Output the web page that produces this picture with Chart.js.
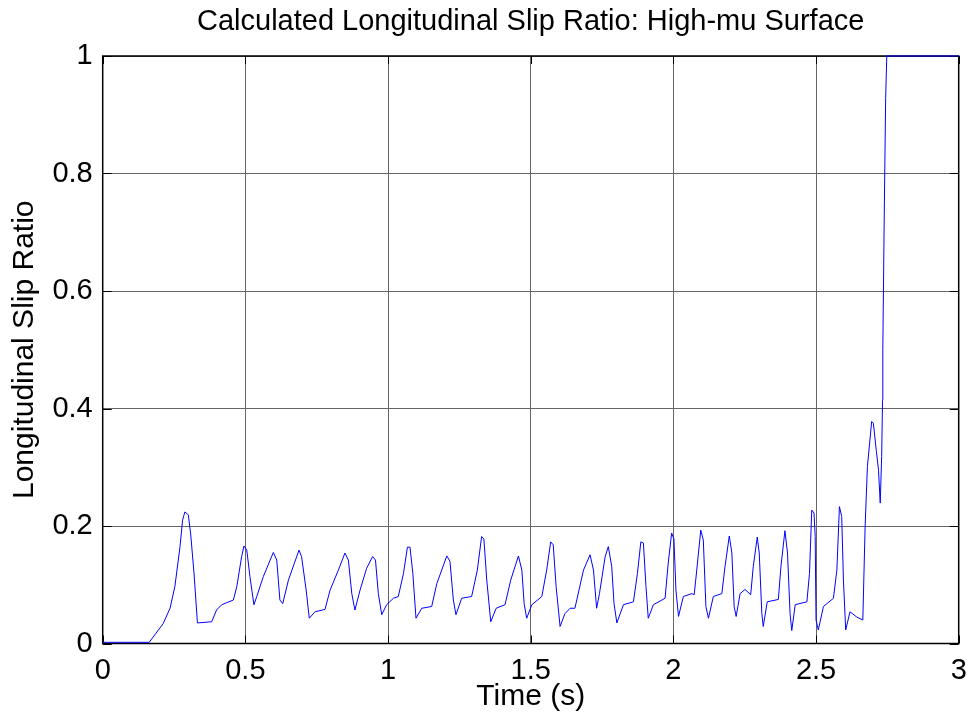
<!DOCTYPE html>
<html lang="en">
<head>
  <meta charset="UTF-8">
  <title>Longitudinal Slip Ratio</title>
  <script src="https://cdn.jsdelivr.net/npm/chart.js"></script>
  <style>
    html, body { margin: 0; padding: 0; background: #fff; }
    #wrap { width: 968px; height: 717px; }
  </style>
</head>
<body>
  <div id="wrap"><canvas id="slipChart" width="968" height="717"></canvas></div>

  <script>
    // time (s)
    const times = [
      0, 0.163, 0.212, 0.236, 0.253, 0.271, 0.280, 0.288, 0.300, 0.308,
      0.320, 0.332, 0.382, 0.399, 0.417, 0.458, 0.470, 0.487, 0.495, 0.505,
      0.516, 0.530, 0.540, 0.563, 0.598, 0.610, 0.621, 0.631, 0.651, 0.688,
      0.697, 0.713, 0.724, 0.744, 0.779, 0.797, 0.826, 0.849, 0.861, 0.873,
      0.884, 0.902, 0.925, 0.946, 0.956, 0.966, 0.978, 0.995, 1.019, 1.036,
      1.054, 1.068, 1.077, 1.087, 1.098, 1.118, 1.153, 1.171, 1.206, 1.217,
      1.229, 1.238, 1.258, 1.293, 1.313, 1.328, 1.336, 1.346, 1.360, 1.379,
      1.410, 1.430, 1.457, 1.469, 1.477, 1.486, 1.504, 1.539, 1.556, 1.570,
      1.579, 1.589, 1.603, 1.620, 1.638, 1.655, 1.685, 1.708, 1.720, 1.731,
      1.741, 1.761, 1.772, 1.784, 1.792, 1.802, 1.825, 1.860, 1.874, 1.886,
      1.895, 1.904, 1.912, 1.930, 1.971, 1.982, 1.994, 2.002, 2.009, 2.018,
      2.035, 2.065, 2.073, 2.082, 2.096, 2.105, 2.114, 2.123, 2.140, 2.170,
      2.181, 2.196, 2.205, 2.213, 2.220, 2.234, 2.251, 2.271, 2.280, 2.294,
      2.301, 2.310, 2.315, 2.329, 2.368, 2.377, 2.391, 2.400, 2.409, 2.415,
      2.427, 2.468, 2.477, 2.485, 2.493, 2.497, 2.500, 2.508, 2.526, 2.561,
      2.573, 2.582, 2.590, 2.596, 2.604, 2.619, 2.643, 2.664, 2.672, 2.680,
      2.695, 2.701, 2.711, 2.719, 2.725, 2.730, 2.733, 2.734, 2.739, 2.744,
      2.748, 3.0
    ];

    // slip ratio at each time
    const slip = [
      0.002, 0.002, 0.034, 0.06, 0.097, 0.165, 0.21, 0.224, 0.219, 0.188,
      0.12, 0.035, 0.037, 0.057, 0.066, 0.074, 0.097, 0.148, 0.166, 0.159,
      0.114, 0.066, 0.080, 0.114, 0.155, 0.142, 0.074, 0.068, 0.108, 0.159,
      0.148, 0.091, 0.043, 0.054, 0.058, 0.091, 0.125, 0.154, 0.142, 0.085,
      0.057, 0.091, 0.128, 0.148, 0.142, 0.085, 0.049, 0.066, 0.077, 0.080,
      0.119, 0.164, 0.164, 0.119, 0.043, 0.060, 0.063, 0.102, 0.149, 0.140,
      0.074, 0.049, 0.077, 0.080, 0.125, 0.182, 0.178, 0.108, 0.037, 0.060,
      0.066, 0.108, 0.149, 0.125, 0.068, 0.043, 0.066, 0.080, 0.125, 0.173,
      0.168, 0.097, 0.029, 0.051, 0.060, 0.060, 0.125, 0.151, 0.125, 0.060,
      0.085, 0.148, 0.165, 0.131, 0.068, 0.035, 0.066, 0.071, 0.119, 0.173,
      0.171, 0.097, 0.043, 0.066, 0.077, 0.137, 0.188, 0.178, 0.091, 0.046,
      0.080, 0.085, 0.083, 0.125, 0.193, 0.176, 0.063, 0.043, 0.080, 0.085,
      0.131, 0.183, 0.154, 0.063, 0.046, 0.085, 0.092, 0.083, 0.131, 0.181,
      0.154, 0.051, 0.029, 0.071, 0.075, 0.131, 0.192, 0.154, 0.051, 0.022,
      0.066, 0.071, 0.119, 0.227, 0.222, 0.182, 0.040, 0.023, 0.063, 0.077,
      0.125, 0.233, 0.216, 0.108, 0.023, 0.054, 0.045, 0.040, 0.199, 0.301,
      0.378, 0.375, 0.329, 0.295, 0.239, 0.318, 0.414, 0.5, 0.726, 0.928,
      1.0, 1.0
    ];

    const xTicks = [0, 0.5, 1, 1.5, 2, 2.5, 3];
    const yTicks = [0, 0.2, 0.4, 0.6, 0.8, 1];

    const FONT = 'Liberation Sans, Arial, Helvetica, sans-serif';
    const fmt = v => String(+v.toFixed(2)); // 1 not 1.0, like MATLAB

    // MATLAB-style box with inward tick marks on all four sides
    const boxPlugin = {
      id: 'box',
      beforeDatasetsDraw(chart) {
        const { ctx, chartArea: a, scales } = chart;
        ctx.save();
        ctx.strokeStyle = '#000';
        ctx.lineWidth = 1;
        ctx.beginPath();
        xTicks.forEach(v => {
          const px = Math.round(scales.x.getPixelForValue(v)) + 0.5;
          ctx.moveTo(px, a.bottom); ctx.lineTo(px, a.bottom - 8);
          ctx.moveTo(px, a.top); ctx.lineTo(px, a.top + 8);
        });
        yTicks.forEach(v => {
          const py = Math.round(scales.y.getPixelForValue(v)) + 0.5;
          ctx.moveTo(a.left, py); ctx.lineTo(a.left + 9, py);
          ctx.moveTo(a.right, py); ctx.lineTo(a.right - 9, py);
        });
        ctx.stroke();
        ctx.lineWidth = 1.5;
        ctx.strokeRect(a.left, a.top, a.right - a.left, a.bottom - a.top);
        ctx.restore();
      }
    };

    const ctx = document.getElementById('slipChart').getContext('2d');
    new Chart(ctx, {
      type: 'line',
      data: {
        datasets: [{
          data: times.map((t, i) => ({ x: t, y: slip[i] })),
          borderColor: '#0000ff',
          borderWidth: 1,
          pointRadius: 0,
          tension: 0,
          fill: false,
          clip: 4
        }]
      },
      options: {
        responsive: false,
        animation: false,
        layout: { padding: { left: 0, right: 9.3, top: 0, bottom: 0 } },
        plugins: {
          legend: { display: false },
          tooltip: { enabled: false },
          title: {
            display: true,
            fullSize: false,
            text: 'Calculated Longitudinal Slip Ratio: High-mu Surface',
            color: '#000',
            font: { family: FONT, size: 29, weight: 'normal', lineHeight: 1.2 },
            padding: { top: 5, bottom: 16.2 }
          }
        },
        scales: {
          x: {
            type: 'linear',
            min: 0,
            max: 3,
            afterBuildTicks: s => { s.ticks = xTicks.map(v => ({ value: v })); },
            afterFit: s => { s.height = 73.5; s.paddingLeft = 0; s.paddingRight = 0; },
            border: { display: false },
            grid: { color: '#666', borderDash: [1, 2], drawTicks: false },
            ticks: { color: '#000', padding: 10, maxRotation: 0, callback: fmt,
                     font: { family: FONT, size: 29 } },
            title: {
              display: true,
              text: 'Time (s)',
              color: '#000',
              font: { family: FONT, size: 30, lineHeight: 1.2 },
              padding: { top: 0, bottom: 2 }
            }
          },
          y: {
            type: 'linear',
            min: 0,
            max: 1,
            afterBuildTicks: s => { s.ticks = yTicks.map(v => ({ value: v })); },
            afterFit: s => { s.width = 102.7; },
            border: { display: false },
            grid: { color: '#666', borderDash: [1, 2], drawTicks: false },
            ticks: { color: '#000', padding: 10, callback: fmt,
                     font: { family: FONT, size: 29 } },
            title: {
              display: true,
              text: 'Longitudinal Slip Ratio',
              color: '#000',
              font: { family: FONT, size: 30, lineHeight: 1.2 },
              padding: { top: 7, bottom: 0 }
            }
          }
        }
      },
      plugins: [boxPlugin]
    });
  </script>
</body>
</html>
